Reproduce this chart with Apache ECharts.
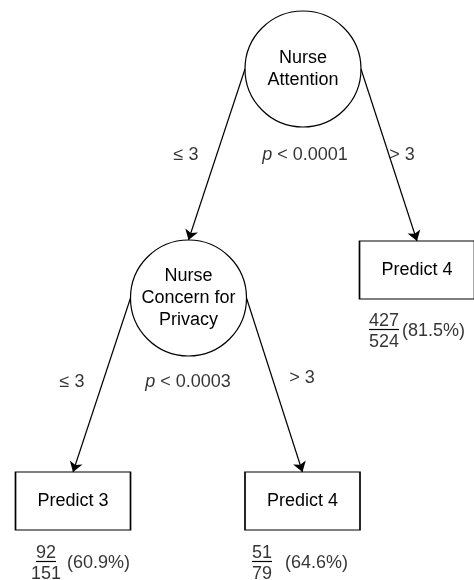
<!DOCTYPE html>
<html>
<head>
<meta charset="utf-8">
<style>html,body{margin:0;padding:0;background:#fff}#chart{width:474px;height:580px}</style>
<script src="https://cdn.jsdelivr.net/npm/echarts@6/dist/echarts.min.js"></script>
</head>
<body>
<div id="chart"></div>
<script>
// ---- data ----
const nodeNames = ['Nurse\nAttention', 'Nurse\nConcern for\nPrivacy', 'Predict 4', 'Predict 3', 'Predict 4'];
const nodeKinds = ['split', 'split', 'leaf', 'leaf', 'leaf'];
const edgeFrom = [0, 0, 1, 1];
const edgeTo = [1, 2, 3, 4];
const edgeLabels = ['\u2264 3', '> 3', '\u2264 3', '> 3'];
const splitNodes = [0, 1];
const splitPValues = ['0.0001', '0.0003'];
const leafNodes = [2, 3, 4];
const leafCorrect = [427, 92, 51];
const leafTotal = [524, 151, 79];
const leafPct = ['81.5%', '60.9%', '64.6%'];

// ---- layout (positions in a 474x580 logical space) ----
const nodePos = [[303, 69], [188.5, 298], [417, 270], [73, 501], [302.5, 501]];
const circleR = 58;
const boxSize = [115, 58];
const edgeLabelPos = [[186, 155], [402, 155], [72, 382], [302, 378]];
const pLabelPos = [[305, 155], [188, 382]];
const fracPos = [[384, 321, 402], [46, 553, 67], [262, 553, 285]]; // numerator cx, cy, percent left x
const fracGap = 21;

const FONT = '"Liberation Sans", Arial, sans-serif';
const FS = 18;
const measure = (() => {
  const c = document.createElement('canvas').getContext('2d');
  c.font = FS + 'px "Liberation Sans", Arial, sans-serif';
  return t => c.measureText(t).width;
})();

const circles = [], boxes = [];
nodeNames.forEach((n, i) => {
  const item = { name: n, value: nodePos[i] };
  (nodeKinds[i] === 'split' ? circles : boxes).push(item);
});

const edges = edgeFrom.map((f, k) => {
  const t = edgeTo[k];
  const [fx, fy] = nodePos[f];
  const [tx, ty] = nodePos[t];
  const sx = tx < fx ? fx - circleR : fx + circleR;
  const endY = nodeKinds[t] === 'split' ? ty - circleR : ty - boxSize[1] / 2;
  return { coords: [[sx, fy], [tx, endY]] };
});

const textPts = [];
edgeLabels.forEach((l, k) => textPts.push({ value: edgeLabelPos[k], label: { formatter: l } }));
splitPValues.forEach((p, k) => textPts.push({ value: pLabelPos[k], label: { formatter: '{i|p} < ' + p } }));
leafCorrect.forEach((c, k) => {
  const [cx, cy] = fracPos[k];
  textPts.push({ value: [cx, cy], label: { formatter: String(c) } });
  textPts.push({ value: [cx, cy + fracGap], label: { formatter: String(leafTotal[k]) } });
});

const pctPts = leafPct.map((p, k) => ({ value: [fracPos[k][2], fracPos[k][1] + fracGap / 2], label: { formatter: '(' + p + ')' } }));

const bars = leafCorrect.map((c, k) => {
  const [cx, cy] = fracPos[k];
  const w = measure(String(c));
  const y = cy + fracGap / 2 - 2;
  return { coords: [[cx - w / 2, y], [cx + w / 2, y]] };
});

const chart = echarts.init(document.getElementById('chart'), null, { renderer: 'canvas' });
chart.setOption({
  animation: false,
  backgroundColor: '#fff',
  grid: { left: 0, right: 0, top: 0, bottom: 0 },
  xAxis: { type: 'value', min: 0, max: 474, show: false },
  yAxis: { type: 'value', min: 0, max: 580, inverse: true, show: false },
  series: [
    {
      type: 'lines', coordinateSystem: 'cartesian2d', data: edges, z: 3,
      symbol: ['none', 'arrow'], symbolSize: 10,
      lineStyle: { color: '#000', width: 1.2, opacity: 1 }
    },
    {
      type: 'scatter', data: circles, symbol: 'circle', symbolSize: circleR * 2, z: 2,
      itemStyle: { color: '#fff', borderColor: '#000', borderWidth: 1.2, opacity: 1 },
      label: { show: true, position: 'inside', formatter: p => p.name, color: '#000', fontFamily: FONT, fontSize: FS, lineHeight: 22 },
      emphasis: { disabled: true }
    },
    {
      type: 'scatter', data: boxes, symbol: 'rect', symbolSize: boxSize, z: 2,
      itemStyle: { color: '#fff', borderColor: '#000', borderWidth: 1.2, opacity: 1 },
      label: { show: true, position: 'inside', formatter: p => p.name, color: '#000', fontFamily: FONT, fontSize: FS },
      emphasis: { disabled: true }
    },
    {
      type: 'scatter', data: textPts, symbolSize: 0, z: 4,
      itemStyle: { color: 'transparent' },
      label: {
        show: true, position: 'inside', color: '#000', fontFamily: FONT, fontSize: FS,
        rich: { i: { fontStyle: 'italic', fontFamily: FONT, fontSize: FS, color: '#000' } }
      },
      emphasis: { disabled: true }
    },
    {
      type: 'scatter', data: pctPts, symbolSize: 0, z: 4,
      itemStyle: { color: 'transparent' },
      label: { show: true, position: [0, 0], align: 'left', verticalAlign: 'middle', color: '#000', fontFamily: FONT, fontSize: FS },
      emphasis: { disabled: true }
    },
    {
      type: 'lines', coordinateSystem: 'cartesian2d', data: bars, z: 4,
      symbol: ['none', 'none'],
      lineStyle: { color: '#000', width: 1.2, opacity: 1 }
    }
  ]
});
</script>
</body>
</html>
